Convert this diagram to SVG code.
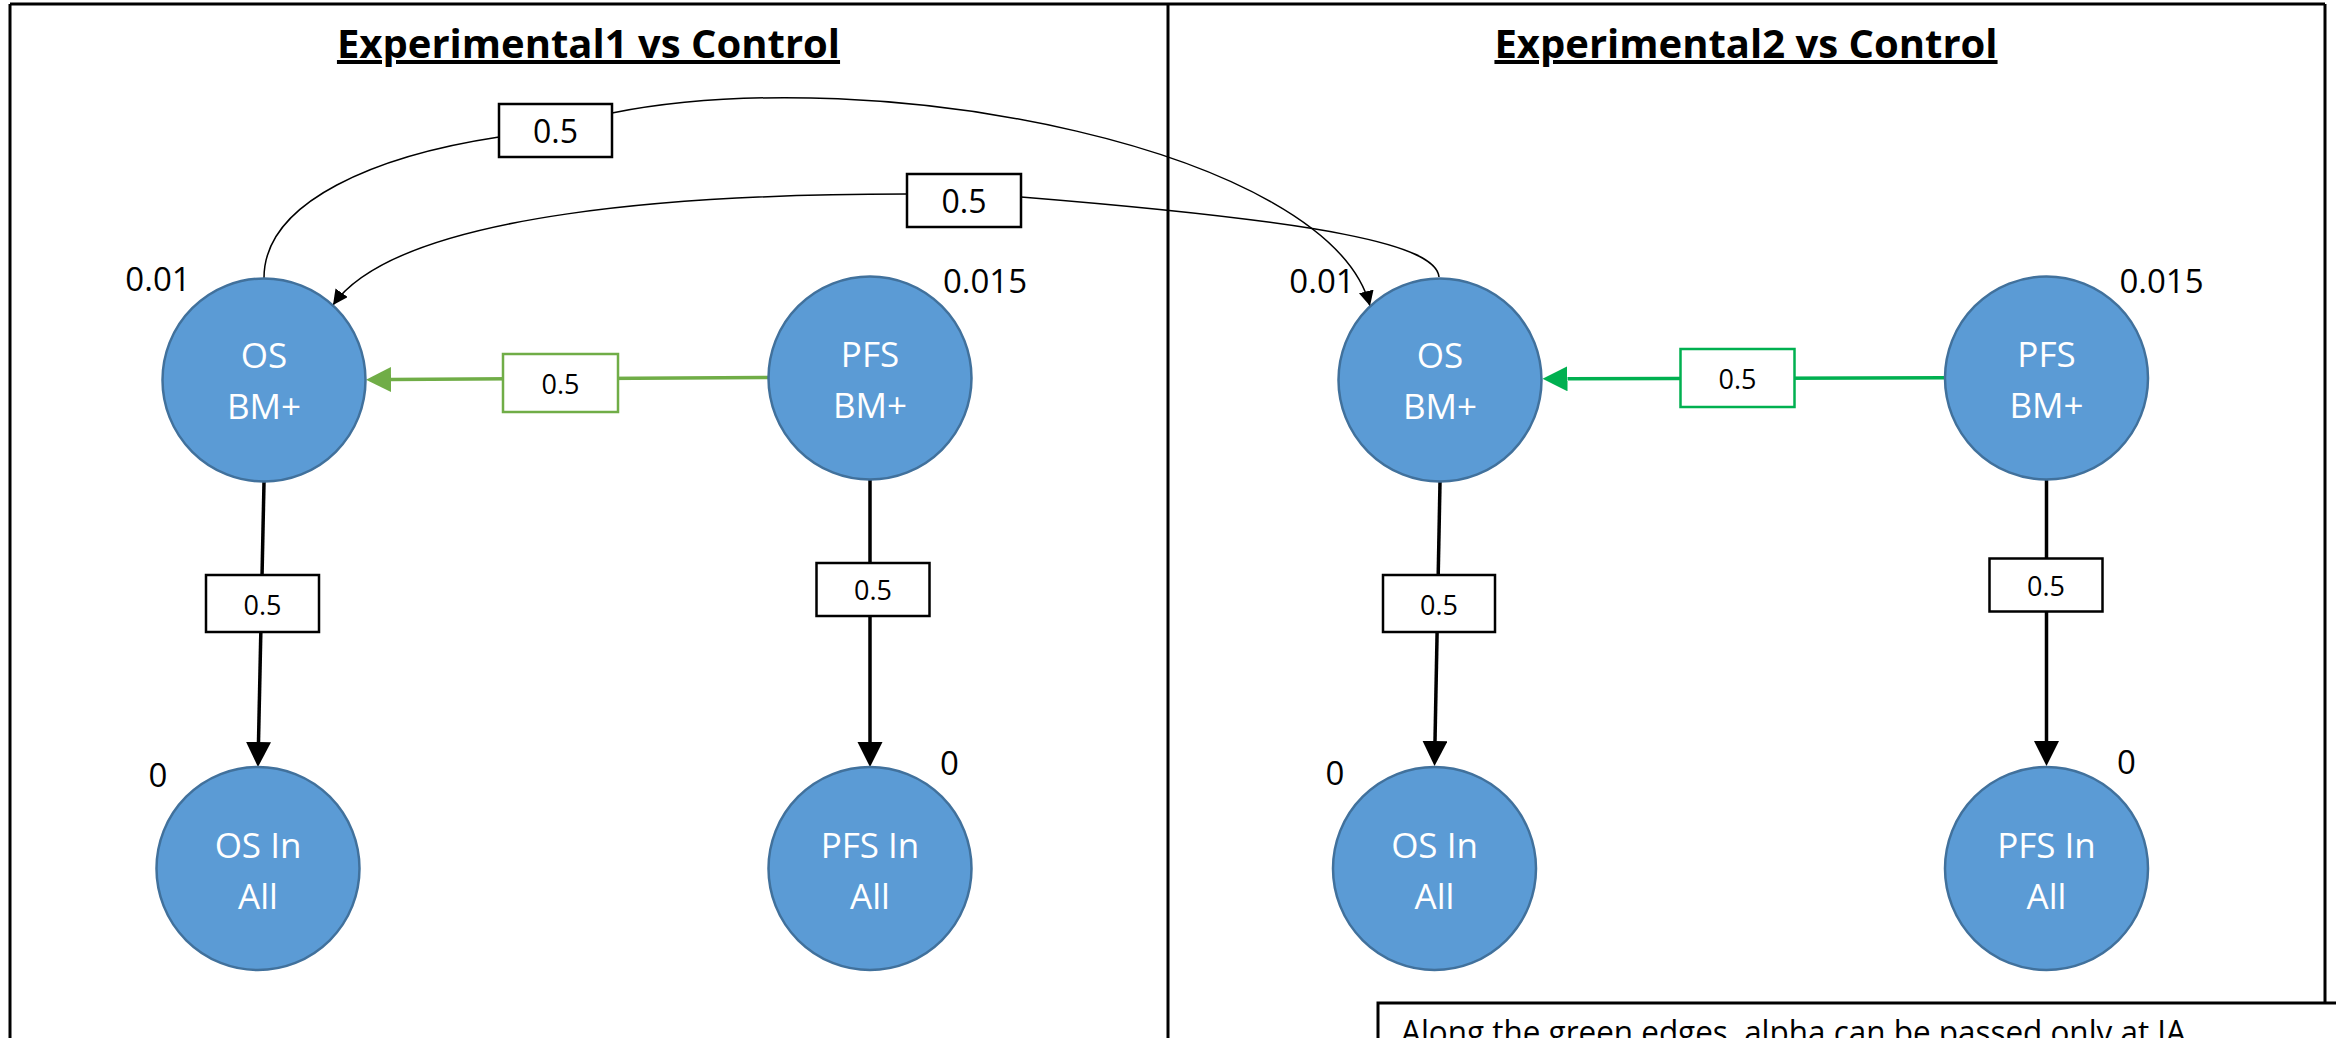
<svg xmlns="http://www.w3.org/2000/svg" width="2336" height="1038" viewBox="0 0 2336 1038">
  <style>
    .frame { stroke: #000; stroke-width: 3; fill: none; }
    .title { font-family: "Open Sans", "Noto Sans", sans-serif; font-weight: bold; font-size: 40px; text-anchor: middle; text-decoration: underline; fill: #000; }
    .node { fill: #5B9BD5; stroke: #41719C; stroke-width: 2.5; }
    .ntext { font-family: "Open Sans", "Noto Sans", sans-serif; font-size: 35px; fill: #fff; text-anchor: middle; }
    .wt { font-family: "Open Sans", "Noto Sans", sans-serif; font-size: 33px; fill: #000; text-anchor: middle; }
    .edge { stroke: #000; stroke-width: 3.5; fill: none; }
    .arc { stroke: #000; stroke-width: 1.5; fill: none; }
    .g1 { stroke: #70AD47; stroke-width: 3.5; fill: none; }
    .g2 { stroke: #00B050; stroke-width: 3.5; fill: none; }
    .lbl { fill: #fff; stroke: #000; stroke-width: 2.5; }
    .lblg1 { fill: #fff; stroke: #70AD47; stroke-width: 2.5; }
    .lblg2 { fill: #fff; stroke: #00B050; stroke-width: 2.5; }
    .ltext { font-family: "Open Sans", "Noto Sans", sans-serif; font-size: 27px; fill: #000; text-anchor: middle; }
    .ltextL { font-family: "Open Sans", "Noto Sans", sans-serif; font-size: 32px; fill: #000; text-anchor: middle; }
    .note { font-family: "Open Sans", "Noto Sans", sans-serif; font-size: 32px; fill: #000; }
  </style>
  <defs>
    <marker id="bigArrow" markerUnits="userSpaceOnUse" markerWidth="26" markerHeight="26" refX="0" refY="12.5" orient="auto">
      <path d="M0,0 L25,12.5 L0,25 z" fill="#000"/>
    </marker>
    <marker id="arrowG1" markerUnits="userSpaceOnUse" markerWidth="26" markerHeight="26" refX="0" refY="12.5" orient="auto">
      <path d="M0,0 L25,12.5 L0,25 z" fill="#70AD47"/>
    </marker>
    <marker id="arrowG2" markerUnits="userSpaceOnUse" markerWidth="26" markerHeight="26" refX="0" refY="12.5" orient="auto">
      <path d="M0,0 L25,12.5 L0,25 z" fill="#00B050"/>
    </marker>
    <marker id="smallArrow" markerUnits="userSpaceOnUse" markerWidth="16" markerHeight="16" refX="15" refY="7.5" orient="auto">
      <path d="M0,0 L15,7.5 L0,15 z" fill="#000"/>
    </marker>
  </defs>

  <rect width="2336" height="1038" fill="#fff"/>

  <g id="frames">
    <line class="frame" x1="10" y1="4" x2="2325" y2="4"/>
    <line class="frame" x1="10" y1="4" x2="10" y2="1040"/>
    <line class="frame" x1="1168" y1="4" x2="1168" y2="1040"/>
    <line class="frame" x1="2325" y1="4" x2="2325" y2="1003"/>
  </g>

  <g id="titles">
    <text class="title" x="588.5" y="58">Experimental1 vs Control</text>
    <text class="title" x="1746" y="58">Experimental2 vs Control</text>
  </g>

  <g id="connectors">
    <path class="arc" d="M264,278 C264,200 380,155 499,137"/>
    <path class="arc" d="M612,113 C880,60 1330,150 1370,306" marker-end="url(#smallArrow)"/>
    <path class="arc" d="M1439,277 C1436,245 1330,222 1021,197"/>
    <path class="arc" d="M907,194 C700,194 400,210 333,305" marker-end="url(#smallArrow)"/>
    <path class="g1" d="M769,377.5 L391,379.5" marker-end="url(#arrowG1)"/>
    <path class="g2" d="M1945,377.7 L1567.5,378.8" marker-end="url(#arrowG2)"/>
    <path class="edge" d="M264,482 L258.5,742" marker-end="url(#bigArrow)"/>
    <path class="edge" d="M870,479 L870,742" marker-end="url(#bigArrow)"/>
    <path class="edge" d="M1440,482 L1435,741" marker-end="url(#bigArrow)"/>
    <path class="edge" d="M2046.5,479 L2046.5,741" marker-end="url(#bigArrow)"/>

    <g id="lbl-arc1">
      <rect class="lbl" x="499" y="104" width="113" height="53"/>
      <text class="ltextL" x="555.5" y="143">0.5</text>
    </g>
    <g id="lbl-arc2">
      <rect class="lbl" x="907" y="174" width="114" height="53"/>
      <text class="ltextL" x="964" y="213">0.5</text>
    </g>
    <g id="lbl-g1">
      <rect class="lblg1" x="503" y="354" width="115" height="58"/>
      <text class="ltext" x="560.5" y="394">0.5</text>
    </g>
    <g id="lbl-g2">
      <rect class="lblg2" x="1680.5" y="349" width="114" height="58"/>
      <text class="ltext" x="1737.5" y="388.5">0.5</text>
    </g>
    <g id="lbl-v1">
      <rect class="lbl" x="206" y="575" width="113" height="57"/>
      <text class="ltext" x="262.5" y="615">0.5</text>
    </g>
    <g id="lbl-v2">
      <rect class="lbl" x="816.5" y="563" width="113" height="53"/>
      <text class="ltext" x="873" y="600">0.5</text>
    </g>
    <g id="lbl-v3">
      <rect class="lbl" x="1383" y="575" width="112" height="57"/>
      <text class="ltext" x="1439" y="615">0.5</text>
    </g>
    <g id="lbl-v4">
      <rect class="lbl" x="1989.5" y="558.5" width="113" height="53"/>
      <text class="ltext" x="2046" y="596">0.5</text>
    </g>
  </g>

  <g id="node-os-bm-1">
    <circle class="node" cx="264" cy="380" r="101.5"/>
    <text class="ntext" x="264" y="368">OS</text>
    <text class="ntext" x="264" y="419">BM+</text>
    <text class="wt" x="158" y="291">0.01</text>
  </g>
  <g id="node-pfs-bm-1">
    <circle class="node" cx="870" cy="378" r="101.5"/>
    <text class="ntext" x="870" y="366.5">PFS</text>
    <text class="ntext" x="870" y="417.5">BM+</text>
    <text class="wt" x="985" y="293">0.015</text>
  </g>
  <g id="node-os-all-1">
    <circle class="node" cx="258" cy="868.5" r="101.5"/>
    <text class="ntext" x="258" y="857.5">OS In</text>
    <text class="ntext" x="258" y="908.5">All</text>
    <text class="wt" x="158" y="787">0</text>
  </g>
  <g id="node-pfs-all-1">
    <circle class="node" cx="870" cy="868.5" r="101.5"/>
    <text class="ntext" x="870" y="857.5">PFS In</text>
    <text class="ntext" x="870" y="908.5">All</text>
    <text class="wt" x="949.5" y="775">0</text>
  </g>

  <g id="node-os-bm-2">
    <circle class="node" cx="1440" cy="380" r="101.5"/>
    <text class="ntext" x="1440" y="368">OS</text>
    <text class="ntext" x="1440" y="419">BM+</text>
    <text class="wt" x="1322" y="293">0.01</text>
  </g>
  <g id="node-pfs-bm-2">
    <circle class="node" cx="2046.5" cy="378" r="101.5"/>
    <text class="ntext" x="2046.5" y="366.5">PFS</text>
    <text class="ntext" x="2046.5" y="417.5">BM+</text>
    <text class="wt" x="2161.5" y="293">0.015</text>
  </g>
  <g id="node-os-all-2">
    <circle class="node" cx="1434.5" cy="868.5" r="101.5"/>
    <text class="ntext" x="1434.5" y="857.5">OS In</text>
    <text class="ntext" x="1434.5" y="908.5">All</text>
    <text class="wt" x="1335" y="785">0</text>
  </g>
  <g id="node-pfs-all-2">
    <circle class="node" cx="2046.5" cy="868.5" r="101.5"/>
    <text class="ntext" x="2046.5" y="857.5">PFS In</text>
    <text class="ntext" x="2046.5" y="908.5">All</text>
    <text class="wt" x="2126.5" y="773.5">0</text>
  </g>

  <g id="note">
    <rect class="frame" x="1378" y="1003" width="1000" height="100" fill="#fff"/>
    <text class="note" x="1401" y="1044" textLength="785" lengthAdjust="spacingAndGlyphs">Along the green edges, alpha can be passed only at IA</text>
  </g>
</svg>
